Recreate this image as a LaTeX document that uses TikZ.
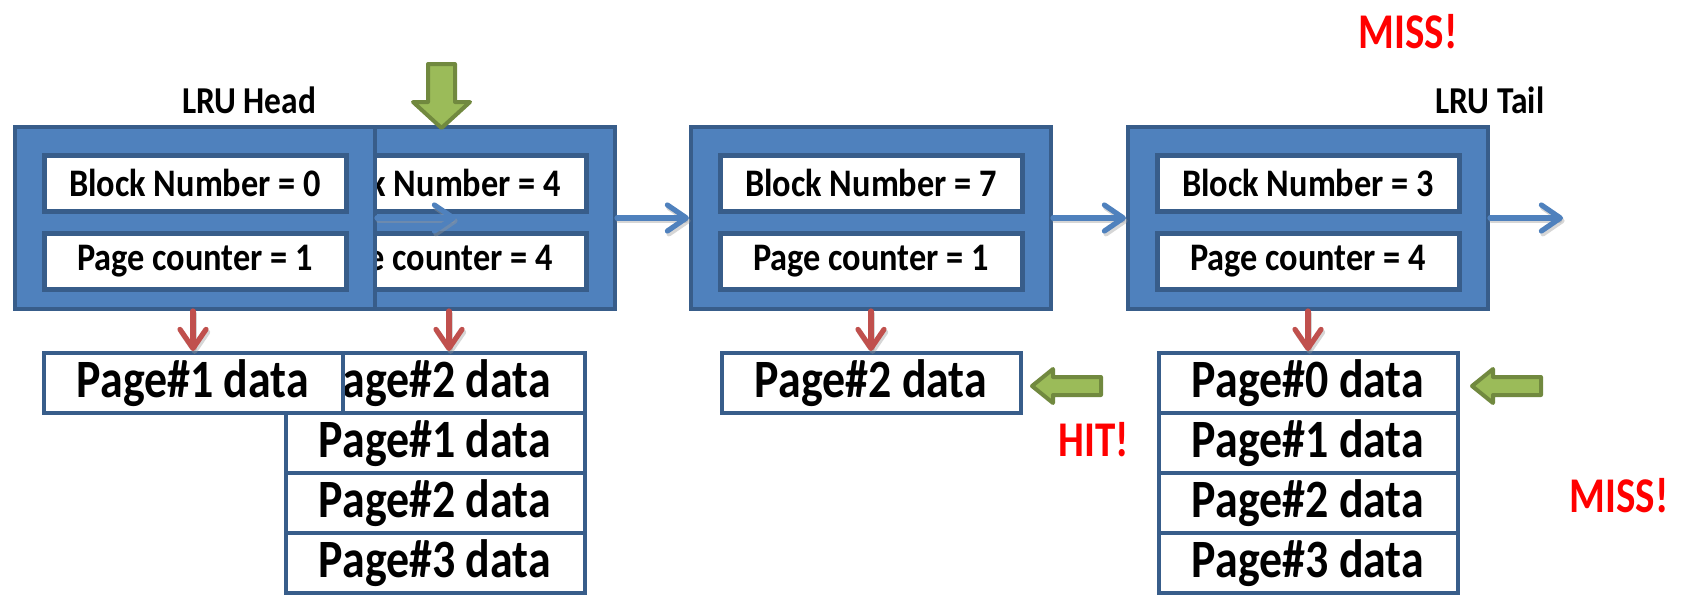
\documentclass[tikz,border=0pt]{standalone}
\usepackage{fontspec}
\setmainfont{Carlito}
\newfontfamily\narrowfont{Carlito}[FakeStretch=0.88]
\newfontfamily\pagefont{Carlito}[FakeStretch=0.85]
\newfontfamily\alertfont{Carlito}[FakeStretch=0.82]
\usetikzlibrary{arrows.meta}
\definecolor{boxblue}{HTML}{4F81BD}
\definecolor{boxedge}{HTML}{385D8A}
\definecolor{redarrow}{HTML}{C0504D}
\definecolor{greenfill}{HTML}{9BBB59}
\definecolor{greenedge}{HTML}{71893F}
\definecolor{alertred}{HTML}{FF0000}
\tikzset{
  block/.style={draw=boxedge, fill=boxblue, line width=2pt, minimum width=180pt, minimum height=91pt, inner sep=0pt},
  field/.style={draw=boxedge, fill=white, line width=2.5pt, minimum width=151pt, minimum height=28pt, inner sep=0pt, font=\narrowfont\bfseries\fontsize{19.5}{22}\selectfont},
  pagebox/.style={draw=boxedge, fill=white, line width=2pt, minimum width=149.5pt, minimum height=30pt, inner sep=0pt, font=\pagefont\bfseries\fontsize{27}{30}\selectfont},
  arrowline/.style={line width=2.6pt, line cap=round, -{Straight Barb[length=9.5pt,width=13pt,round]}},
  link/.style={arrowline, draw=boxblue},
  ref/.style={arrowline, draw=redarrow},
  shade/.style={arrowline, draw=black!40, opacity=0.4, transform canvas={xshift=0.8pt, yshift=-1.4pt}},
  pointer/.style={fill=greenfill, draw=greenedge, line width=2pt, line join=round},
  caption/.style={font=\narrowfont\bfseries\fontsize{19}{22}\selectfont},
  alert/.style={text=alertred, font=\alertfont\bfseries\fontsize{25}{28}\selectfont},
}
% an arrow with its soft drop shadow
\newcommand\shadowedarrow[3]{%
  \draw[shade] (#2) -- (#3);
  \draw[#1] (#2) -- (#3);}
\begin{document}
\begin{tikzpicture}[x=0.5pt,y=-0.5pt]
\useasboundingbox (0,0) rectangle (1681,595);

% second block (partly hidden behind the head)
\node[block] (b2) at (435,218) {};
\node[field] (b2n) at (435,183) {Block Number = 4};
\node[field] (b2c) at (435,261) {Page counter = 4};
\node[pagebox] (b2p1) at (435,383) {Page\#2 data};
\node[pagebox] (b2p2) at (435,443) {Page\#1 data};
\node[pagebox] (b2p3) at (435,503) {Page\#2 data};
\node[pagebox] (b2p4) at (435,563) {Page\#3 data};
\shadowedarrow{ref}{[xshift=7pt]b2.south}{[xshift=7pt]b2p1.north}

% third block
\node[block] (b3) at (871,218) {};
\node[field] (b3n) at (871,183) {Block Number = 7};
\node[field] (b3c) at (871,261) {Page counter = 1};
\node[pagebox] (b3p1) at (871,383) {Page\#2 data};
\shadowedarrow{ref}{b3.south}{b3p1.north}

% tail block
\node[block] (b4) at (1308,218) {};
\node[field] (b4n) at (1308,183) {Block Number = 3};
\node[field] (b4c) at (1308,261) {Page counter = 4};
\node[pagebox] (b4p1) at (1308,383) {Page\#0 data};
\node[pagebox] (b4p2) at (1308,443) {Page\#1 data};
\node[pagebox] (b4p3) at (1308,503) {Page\#2 data};
\node[pagebox] (b4p4) at (1308,563) {Page\#3 data};
\shadowedarrow{ref}{b4.south}{b4p1.north}

% list links
\coordinate (tailnext) at (1563,218);
\shadowedarrow{link}{b2.east}{b3.west}
\shadowedarrow{link}{b3.east}{b4.west}
\shadowedarrow{link}{b4.east}{tailnext}

% head block
\node[block] (head) at (195,218) {};
\node[field] (hn) at (195,183) {Block Number = 0};
\node[field] (hc) at (195,261) {Page counter = 1};
\node[pagebox] (hp1) at (193,383) {Page\#1 data};
\shadowedarrow{ref}{head.south -| hp1.north}{hp1.north}
\coordinate (headnext) at (456,218);
\shadowedarrow{link}{head.east}{headnext}

% green pointers
\draw[pointer] (428,64) -- (455,64) -- (455,102) -- (470,102) -- (441.5,128) -- (413,102) -- (428,102) -- cycle;
\draw[pointer] (1032,386) -- (1053,369) -- (1053,377) -- (1101,377) -- (1101,395) -- (1053,395) -- (1053,403) -- cycle;
\draw[pointer] (1472,386) -- (1493,369) -- (1493,377) -- (1541,377) -- (1541,395) -- (1493,395) -- (1493,403) -- cycle;

% labels
\node[caption] (headlbl) at (249,100) {LRU Head};
\node[caption] (taillbl) at (1490,100) {LRU Tail};
\node[alert] (miss1) at (1408,32) {MISS!};
\node[alert] (hit) at (1094,440) {HIT!};
\node[alert] (miss2) at (1619,496) {MISS!};
\end{tikzpicture}
\end{document}
